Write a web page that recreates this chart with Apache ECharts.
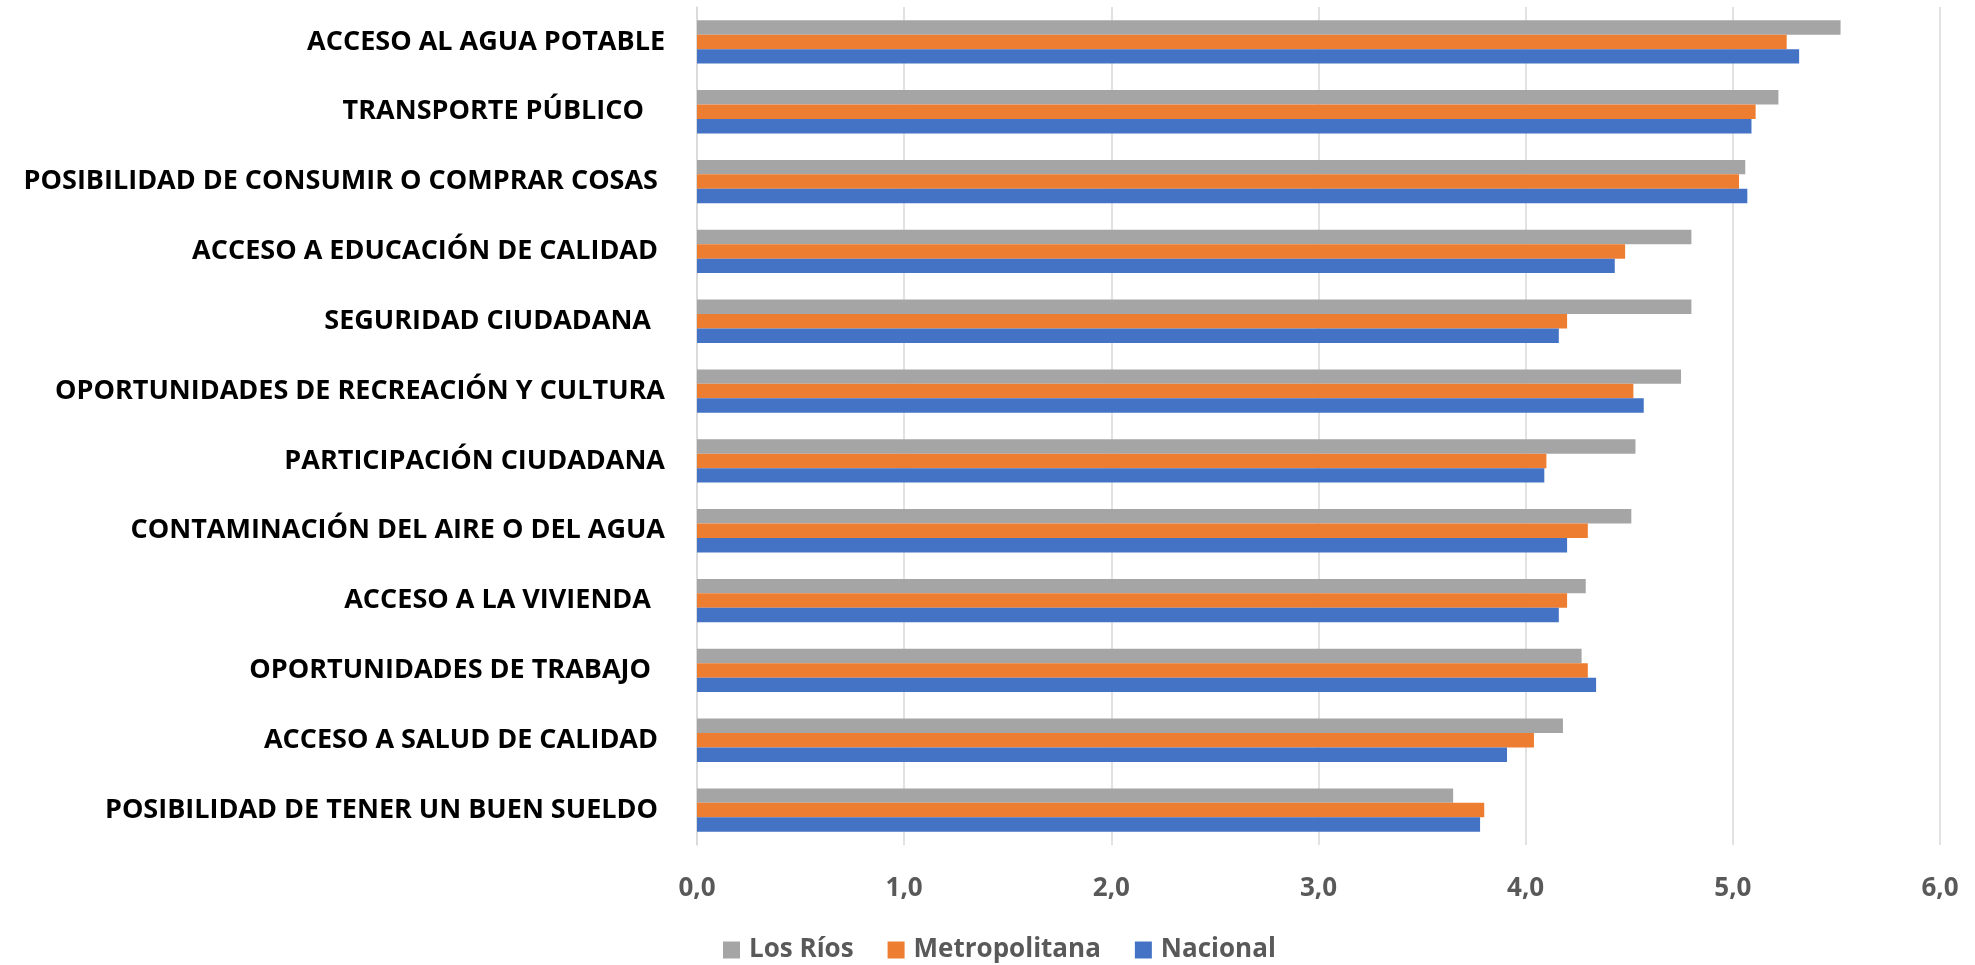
<!DOCTYPE html>
<html>
<head>
<meta charset="utf-8">
<script src="https://cdn.jsdelivr.net/npm/echarts@6/dist/echarts.min.js"></script>
<style>
  html, body { margin: 0; padding: 0; background: #ffffff; }
  #main { width: 1975px; height: 965px; }
</style>
</head>
<body>
<div id="main"></div>
<script>
// categorias (de arriba hacia abajo), con los espacios finales del original
const categorias = [
  'ACCESO AL AGUA POTABLE',
  'TRANSPORTE PÚBLICO   ',
  'POSIBILIDAD DE CONSUMIR O COMPRAR COSAS ',
  'ACCESO A EDUCACIÓN DE CALIDAD ',
  'SEGURIDAD CIUDADANA  ',
  'OPORTUNIDADES DE RECREACIÓN Y CULTURA',
  'PARTICIPACIÓN CIUDADANA',
  'CONTAMINACIÓN DEL AIRE O DEL AGUA',
  'ACCESO A LA VIVIENDA  ',
  'OPORTUNIDADES DE TRABAJO  ',
  'ACCESO A SALUD DE CALIDAD ',
  'POSIBILIDAD DE TENER UN BUEN SUELDO '
];
const losRios       = [5.52, 5.22, 5.06, 4.80, 4.80, 4.75, 4.53, 4.51, 4.29, 4.27, 4.18, 3.65];
const metropolitana = [5.26, 5.11, 5.03, 4.48, 4.20, 4.52, 4.10, 4.30, 4.20, 4.30, 4.04, 3.80];
const nacional      = [5.32, 5.09, 5.07, 4.43, 4.16, 4.57, 4.09, 4.20, 4.16, 4.34, 3.91, 3.78];
const ticksX = [0, 1, 2, 3, 4, 5, 6];

const chart = echarts.init(document.getElementById('main'));
const fuente = '"Open Sans", "Noto Sans", sans-serif';

const option = {
  animation: false,
  color: ['#A5A5A5', '#ED7D31', '#4472C4'],
  grid: { left: 697, right: 35, top: 7, bottom: 120 },
  legend: {
    data: ['Los Ríos', 'Metropolitana', 'Nacional'],
    left: 718,
    top: 932,
    icon: 'rect',
    itemWidth: 17,
    itemHeight: 17,
    itemGap: 34,
    textStyle: {
      fontFamily: fuente,
      fontWeight: 'bold',
      fontSize: 26,
      color: '#595959',
      padding: [0, 0, 0, 4]
    }
  },
  xAxis: {
    type: 'value',
    min: ticksX[0],
    max: ticksX[ticksX.length - 1],
    interval: 1,
    axisLine: { show: false },
    axisTick: { show: false },
    splitLine: { lineStyle: { color: '#D9D9D9', width: 1.5 } },
    axisLabel: {
      margin: 31,
      fontFamily: fuente,
      fontWeight: 'bold',
      fontSize: 26,
      color: '#595959',
      formatter: v => v.toFixed(1).replace('.', ',')
    }
  },
  yAxis: {
    type: 'category',
    inverse: true,
    data: categorias,
    axisLine: { show: true, lineStyle: { color: '#D9D9D9', width: 1.5 } },
    axisTick: { show: false },
    axisLabel: {
      margin: 32,
      fontFamily: fuente,
      fontWeight: 'bold',
      fontSize: 27,
      color: '#000000'
    }
  },
  series: [
    { name: 'Los Ríos', type: 'bar', data: losRios, barGap: '0%', barCategoryGap: '38%' },
    { name: 'Metropolitana', type: 'bar', data: metropolitana, barGap: '0%', barCategoryGap: '38%' },
    { name: 'Nacional', type: 'bar', data: nacional, barGap: '0%', barCategoryGap: '38%' }
  ]
};
chart.setOption(option);
</script>
</body>
</html>
